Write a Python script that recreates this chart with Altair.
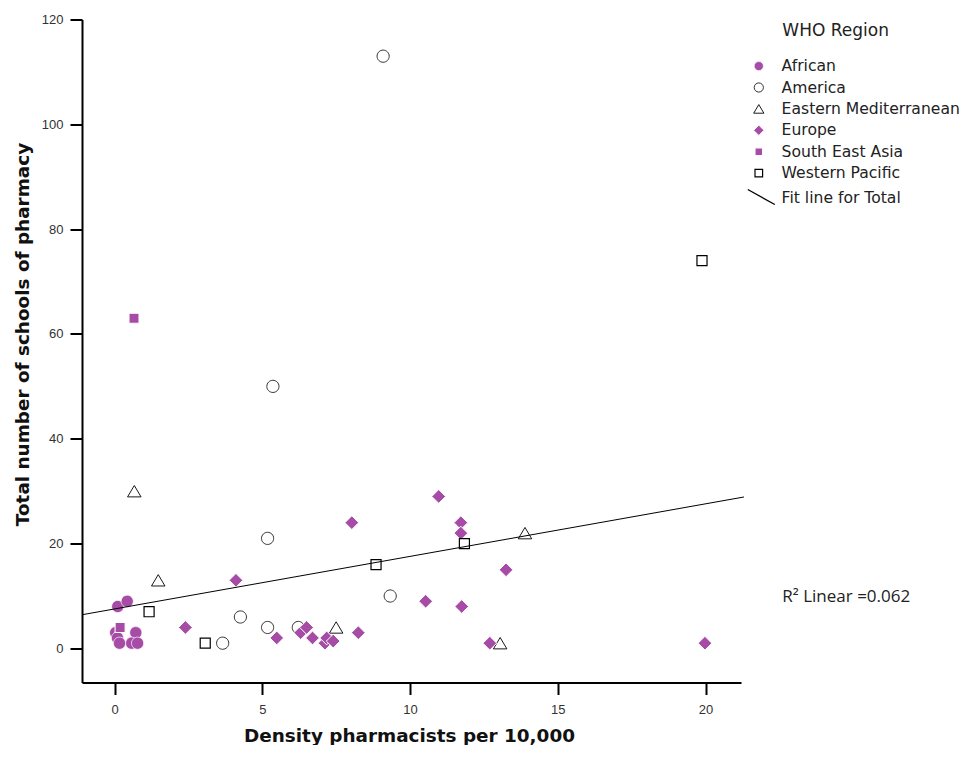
import altair as alt
import pandas as pd

# ---- data ----
regions = ["African", "America", "Eastern Mediterranean", "Europe",
           "South East Asia", "Western Pacific"]
legend_entries = regions + ["Fit line for Total"]

african_x = [0.11, 0.43, 0.04, 0.10, 0.17, 0.72, 0.58, 0.78]
african_y = [8, 9, 3, 2, 1, 3, 1, 1]
america_x = [9.09, 5.36, 5.18, 4.26, 3.66, 5.18, 6.22, 9.33]
america_y = [113, 50, 21, 6, 1, 4, 4, 10]
emed_x = [0.67, 1.48, 7.50, 13.05, 13.89]
emed_y = [30, 13, 4, 1, 22]
europe_x = [2.40, 4.11, 5.49, 6.30, 6.50, 6.70, 7.12, 7.18, 7.40, 8.25,
            8.03, 10.53, 10.97, 11.72, 11.72, 11.75, 12.70, 13.25, 19.98]
europe_y = [4, 13, 2, 3, 4, 2, 1, 2, 1.4, 3,
            24, 9, 29, 24, 22, 8, 1, 15, 1]
sea_x = [0.66, 0.19]
sea_y = [63, 4]
wpac_x = [1.17, 3.07, 8.85, 11.84, 19.88]
wpac_y = [7, 1, 16, 20, 74]

x_ticks = [0, 5, 10, 15, 20]
y_ticks = [0, 20, 40, 60, 80, 100, 120]
x_domain = [-1.1, 21.2]
y_domain = [-6.5, 120]
fit_extent = [-1.1, 21.3]

note_text = ["WHO Region", "R\u00b2 Linear =0.062"]
note_font = ["DejaVu Sans", "Open Sans"]
note_size = [17, 17]
note_x = [22.6, 22.6]
note_y = [117.9, 9.8]

purple = "#a64ca6"
fills = [purple, "white", "white", purple, purple, "white", "transparent"]
strokes = ["white", "black", "black", "white", "white", "black", "black"]
stroke_widths = [0.7, 1.3, 1.3, 0.7, 0.7, 1.3, 1.2]
circle_path = "M0.92,0A0.92,0.92,0,1,1,-0.92,0A0.92,0.92,0,1,1,0.92,0Z"
square_path = "M-0.76,-0.76L0.76,-0.76L0.76,0.76L-0.76,0.76Z"
shapes = [
    circle_path,
    circle_path,
    "M0,-0.86L1.02,0.86L-1.02,0.86Z",
    "M0,-1.04L1.04,0L0,1.04L-1.04,0Z",
    square_path,
    square_path,
    "M-2.2,-1.6L3.2,1.4",
]

series = [
    ("African", african_x, african_y),
    ("America", america_x, america_y),
    ("Eastern Mediterranean", emed_x, emed_y),
    ("Europe", europe_x, europe_y),
    ("South East Asia", sea_x, sea_y),
    ("Western Pacific", wpac_x, wpac_y),
]
rows = []
for name, xs, ys in series:
    for xv, yv in zip(xs, ys):
        rows.append({"region": name, "density": xv, "schools": yv})
df = pd.DataFrame(rows)

xscale = alt.Scale(domain=x_domain, nice=False, zero=False)
yscale = alt.Scale(domain=y_domain, nice=False, zero=False)

axis_common = dict(
    grid=False, domainColor="black", domainWidth=2, tickColor="black",
    tickWidth=2, tickSize=12, labelFont="Liberation Sans",
    labelFontSize=13, labelColor="#333333", titleFont="DejaVu Sans",
    titleFontSize=18.4, titleFontWeight="bold", titleColor="#111111",
    titleBaseline="alphabetic",
)
x_axis = alt.Axis(values=x_ticks, title="Density pharmacists per 10,000",
                  labelPadding=9, titleX=327, titleY=58.5, titleAlign="center",
                  **axis_common)
y_axis = alt.Axis(values=y_ticks, title="Total number of schools of pharmacy",
                  labelPadding=7, titleX=-53.5, titleY=314.5, titleAngle=270,
                  titleAlign="center", **axis_common)

legend = alt.Legend(
    title=None,
    orient="none", legendX=669, legendY=38.8, padding=0,
    symbolSize=100, symbolStrokeWidth=1.1,
    labelFont="DejaVu Sans", labelFontSize=15.6, labelColor="#222222",
    labelLimit=300, labelOffset=15, rowPadding=4.4,
)

points = alt.Chart(df).mark_point(size=175, opacity=1).encode(
    x=alt.X("density:Q", scale=xscale, axis=x_axis),
    y=alt.Y("schools:Q", scale=yscale, axis=y_axis),
    shape=alt.Shape("region:N", scale=alt.Scale(domain=legend_entries, range=shapes), legend=legend),
    fill=alt.Fill("region:N", scale=alt.Scale(domain=legend_entries, range=fills), legend=legend),
    stroke=alt.Stroke("region:N", scale=alt.Scale(domain=legend_entries, range=strokes), legend=legend),
    strokeWidth=alt.StrokeWidth("region:N", scale=alt.Scale(domain=legend_entries, range=stroke_widths), legend=None),
)

fit = alt.Chart(df).transform_regression(
    "density", "schools", extent=fit_extent
).mark_line(color="black", strokeWidth=1).encode(
    x=alt.X("density:Q", scale=xscale),
    y=alt.Y("schools:Q", scale=yscale),
)

notes_df = pd.DataFrame({"x": note_x, "y": note_y, "label": note_text})
notes = []
for i in range(len(note_text)):
    notes.append(
        alt.Chart(notes_df.iloc[[i]]).mark_text(
            align="left", baseline="middle", font=note_font[i],
            fontSize=note_size[i], color="#222222"
        ).encode(
            x=alt.X("x:Q", scale=xscale),
            y=alt.Y("y:Q", scale=yscale),
            text="label:N",
        )
    )

chart = alt.layer(points, fit, *notes).properties(
    width=659, height=663,
    autosize=alt.AutoSizeParams(type="none"),
    padding={"left": 74, "top": 11.5, "right": 222, "bottom": 62.5},
).configure_view(stroke=None)

chart.save("out.html", embed_options={"renderer": "svg", "actions": False})
